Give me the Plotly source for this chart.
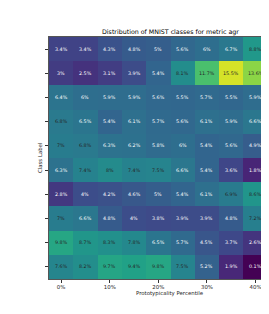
import plotly.graph_objects as go

title = "Distribution of MNIST classes for metric agr"
x_label = "Prototypicality Percentile"
y_label = "Class Label"

percentiles = [0, 5, 10, 15, 20, 25, 30, 35, 40, 45]
classes = [0, 1, 2, 3, 4, 5, 6, 7, 8, 9]
x_tick_positions = [0, 2, 4, 6, 8]
x_tick_labels = ["0%", "10%", "20%", "30%", "40%"]

# percent share of each class in each percentile bin (rows = class 0..9)
row0 = [3.4, 3.4, 4.3, 4.8, 5.0, 5.6, 6.0, 6.7, 8.8, 12.0]
row1 = [3.0, 2.5, 3.1, 3.9, 5.4, 8.1, 11.7, 15.5, 13.6, 0.3]
row2 = [6.4, 6.0, 5.9, 5.9, 5.6, 5.5, 5.7, 5.5, 5.9, 5.8]
row3 = [6.8, 6.5, 5.4, 6.1, 5.7, 5.6, 6.1, 5.9, 6.6, 7.0]
row4 = [7.0, 6.8, 6.3, 6.2, 5.8, 6.0, 5.4, 5.6, 4.9, 4.2]
row5 = [6.3, 7.4, 8.0, 7.4, 7.5, 6.6, 5.4, 3.6, 1.8, 0.3]
row6 = [2.8, 4.0, 4.2, 4.6, 5.0, 5.4, 6.1, 6.9, 8.6, 11.3]
row7 = [7.0, 6.6, 4.8, 4.0, 3.8, 3.9, 3.9, 4.8, 7.2, 16.5]
row8 = [9.8, 8.7, 8.3, 7.8, 6.5, 5.7, 4.5, 3.7, 2.6, 0.8]
row9 = [7.6, 8.2, 9.7, 9.4, 9.8, 7.5, 5.2, 1.9, 0.1, 0.1]
values = [row0, row1, row2, row3, row4, row5, row6, row7, row8, row9]

# page has an 8px body margin; figure is sized so it ends at the window edge
OFF = 8
W, H = 269 - OFF, 314 - OFF
L, T = 49 - OFF, 37 - OFF
plot_w, plot_h = W - L, 242
cell = 24.3
B = H - T - plot_h


def px_x(abs_x):
    return (abs_x - OFF - L) / plot_w


def px_y(abs_y):
    return (T + plot_h - (abs_y - OFF)) / plot_h


cols = list(range(len(percentiles)))
fig = go.Figure()
fig.add_trace(go.Heatmap(
    z=values, x=cols, y=classes,
    colorscale="Viridis", zmin=0.1, zmax=16.5,
    showscale=False, hoverinfo="skip",
))

anns = []
for r, row in zip(classes, values):
    for c, v in zip(cols, row):
        txt = f"{v:g}%"
        anns.append(dict(
            x=c, y=r, xref="x", yref="y", text=txt, showarrow=False,
            font=dict(family="DejaVu Sans", size=4.8,
                      color="#262626" if v > 6.75 else "#ffffff"),
        ))

anns.append(dict(x=px_x(170), y=px_y(293), xref="paper", yref="paper",
                 text=x_label, showarrow=False, xanchor="center", yanchor="middle",
                 font=dict(family="DejaVu Sans", size=5.4, color="#262626")))
anns.append(dict(x=px_x(40), y=0.5, xref="paper", yref="paper",
                 text=y_label, showarrow=False, textangle=-90,
                 xanchor="center", yanchor="middle",
                 font=dict(family="DejaVu Sans", size=5.4, color="#262626")))
anns.append(dict(x=px_x(170), y=px_y(32), xref="paper", yref="paper",
                 text=title, showarrow=False, xanchor="center", yanchor="middle",
                 font=dict(family="DejaVu Sans", size=6.3, color="#000000")))

fig.update_layout(
    width=W, height=H,
    margin=dict(l=L, r=0, t=T, b=B, pad=0),
    paper_bgcolor="white", plot_bgcolor="white",
    annotations=anns,
    xaxis=dict(range=[-0.5, -0.5 + plot_w / cell], tickvals=x_tick_positions,
               ticktext=x_tick_labels, ticks="outside", ticklen=3, tickwidth=0.7,
               tickcolor="#333333", showgrid=False, zeroline=False,
               showline=True, linecolor="#555555", linewidth=0.8, mirror=True,
               tickfont=dict(family="DejaVu Sans", size=5.4, color="#262626")),
    yaxis=dict(range=[len(classes) - 0.5, -0.5], tickvals=classes,
               showticklabels=False, ticks="outside", ticklen=3, tickwidth=0.7,
               tickcolor="#333333", showgrid=False, zeroline=False,
               showline=True, linecolor="#555555", linewidth=0.8, mirror=False),
)

fig.write_html("out.html")
